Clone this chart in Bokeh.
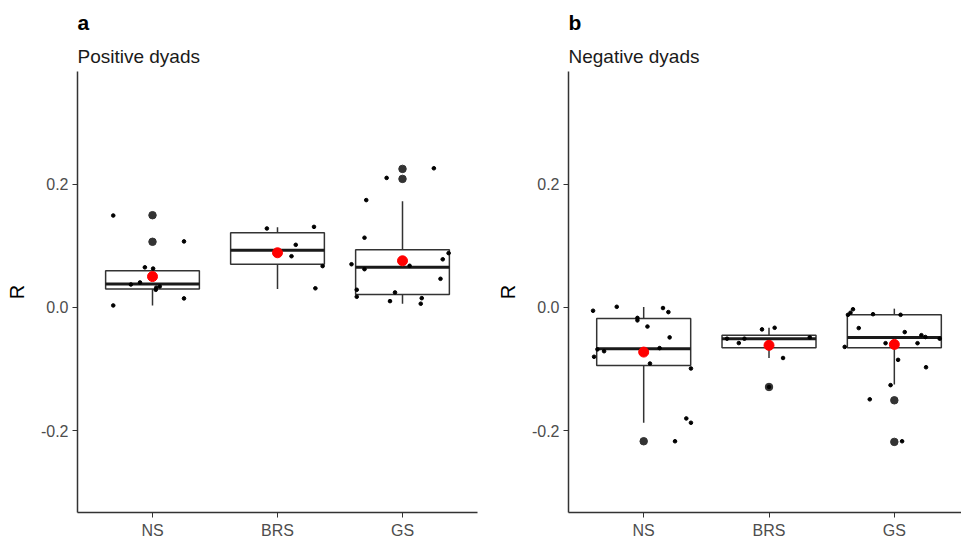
from bokeh.plotting import figure
from bokeh.layouts import row
from bokeh.models import FixedTicker, NumeralTickFormatter, Title, Range1d
from bokeh.embed import file_html
from bokeh.resources import INLINE

groups = ["NS", "BRS", "GS"]
FONT = "Liberation Sans"

# ---------------- Panel a: Positive dyads ----------------
pos_q1 = [0.0297, 0.070, 0.021]
pos_med = [0.0378, 0.0928, 0.0653]
pos_q3 = [0.0594, 0.121, 0.0934]
pos_wlo = [0.0032, 0.030, 0.006]
pos_whi = [0.064, 0.130, 0.172]
pos_mean = [0.050, 0.0886, 0.0756]
pos_out_group = ["NS", "NS", "GS", "GS"]
pos_out_val = [0.1495, 0.1064, 0.2246, 0.2084]

pos_ns_val = [0.149, 0.107, 0.065, 0.063, 0.0405, 0.0372, 0.032, 0.034, 0.0286, 0.0146, 0.0032]
pos_ns_jit = [-0.314, 0.252, -0.061, 0.005, -0.10, -0.173, 0.03, 0.058, 0.026, 0.252, -0.314]
pos_brs_val = [0.128, 0.1306, 0.1015, 0.083, 0.067, 0.031]
pos_brs_jit = [-0.085, 0.292, 0.146, 0.112, 0.361, 0.303]
pos_gs_val = [0.2256, 0.210, 0.174, 0.113, 0.088, 0.078, 0.070, 0.062, 0.0675, 0.0464,
              0.0286, 0.0173, 0.0243, 0.015, 0.0102, 0.006]
pos_gs_jit = [0.251, -0.127, -0.29, -0.304, 0.369, 0.322, -0.408, -0.304, 0.057, 0.304,
              -0.366, -0.366, -0.06, 0.154, -0.1, 0.146]

# ---------------- Panel b: Negative dyads ----------------
neg_q1 = [-0.094, -0.0653, -0.0653]
neg_med = [-0.067, -0.0507, -0.0486]
neg_q3 = [-0.0178, -0.0453, -0.0119]
neg_wlo = [-0.187, -0.082, -0.125]
neg_whi = [0.0005, -0.033, -0.002]
neg_mean = [-0.0724, -0.0615, -0.060]
neg_out_group = ["NS", "BRS", "GS", "GS"]
neg_out_val = [-0.217, -0.129, -0.1506, -0.218]

neg_ns_val = [-0.0054, 0.001, -0.001, -0.0076, -0.017, -0.021, -0.031, -0.0486, -0.068, -0.071,
              -0.066, -0.080, -0.091, -0.099, -0.180, -0.187, -0.217]
neg_ns_jit = [-0.404, -0.215, 0.154, 0.197, -0.05, -0.05, 0.03, 0.207, -0.369, -0.316,
              0.127, -0.396, 0.05, 0.377, 0.34, 0.377, 0.25]
neg_brs_val = [-0.0356, -0.033, -0.0507, -0.0507, -0.0578, -0.0486, -0.082, -0.129]
neg_brs_jit = [-0.056, 0.045, -0.335, -0.196, -0.241, 0.325, 0.112, 0.0]
neg_gs_val = [-0.003, -0.0086, -0.012, -0.011, -0.012, -0.0335, -0.040, -0.045, -0.048, -0.0507,
              -0.058, -0.058, -0.064, -0.085, -0.097, -0.126, -0.149, -0.217]
neg_gs_jit = [-0.33, -0.35, -0.37, -0.17, 0.05, -0.284, 0.083, 0.216, 0.248, 0.362,
              -0.07, 0.185, -0.396, 0.03, 0.253, -0.03, -0.196, 0.062]

y_ticks = [-0.2, 0.0, 0.2]
BOX_HALF = 0.375


def make_panel(letter, subtitle, q1, med, q3, wlo, whi, mean, out_g, out_v,
               pts, x_end, frame_w, right_border):
    p = figure(frame_width=frame_w, frame_height=441,
               x_range=Range1d(0.4, x_end), y_range=Range1d(-0.3325, 0.3825),
               output_backend="svg", toolbar_location=None,
               min_border_left=77, min_border_right=right_border,
               min_border_top=71, min_border_bottom=27,
               outline_line_color=None, title=letter)
    p.grid.visible = False
    p.title.align = "left"
    p.title.text_font = FONT
    p.title.text_font_size = "21px"
    p.title.text_font_style = "bold"
    p.title.text_color = "black"
    p.add_layout(Title(text=subtitle, align="left", text_font=FONT, text_font_size="19px",
                       text_font_style="normal", text_color="#1a1a1a"), "above")

    xs = [i + 1 for i in range(len(groups))]
    # whiskers
    p.segment(x0=xs, x1=xs, y0=q3, y1=whi, line_color="#333333", line_width=1.5)
    p.segment(x0=xs, x1=xs, y0=wlo, y1=q1, line_color="#333333", line_width=1.5)
    # boxes
    p.quad(left=[x - BOX_HALF for x in xs], right=[x + BOX_HALF for x in xs],
           bottom=q1, top=q3, fill_color="white", line_color="#333333", line_width=1.5)
    # medians
    p.segment(x0=[x - BOX_HALF for x in xs], x1=[x + BOX_HALF for x in xs],
              y0=med, y1=med, line_color="#1a1a1a", line_width=3)
    # outliers
    ox = [groups.index(g) + 1 for g in out_g]
    p.scatter(ox, out_v, size=7.5, fill_color="#333333", line_color="#333333")
    # jittered points
    jx, jy = [], []
    for gi, (vals, jit) in enumerate(pts):
        for v, j in zip(vals, jit):
            jx.append(gi + 1 + j)
            jy.append(v)
    p.scatter(jx, jy, size=3.6, fill_color="black", line_color="black")
    # means
    p.scatter(xs, mean, size=10, fill_color="red", line_color="red")

    p.xaxis.ticker = FixedTicker(ticks=xs)
    p.xaxis.major_label_overrides = {x: g for x, g in zip(xs, groups)}
    p.yaxis.ticker = FixedTicker(ticks=y_ticks)
    p.yaxis.formatter = NumeralTickFormatter(format="0.0")
    p.yaxis.axis_label = "R"
    p.yaxis.axis_label_text_font = FONT
    p.yaxis.axis_label_text_font_size = "20px"
    p.yaxis.axis_label_text_font_style = "normal"
    p.yaxis.axis_label_text_color = "black"
    p.yaxis.axis_label_standoff = 10
    for ax in (p.xaxis, p.yaxis):
        ax.axis_line_color = "#333333"
        ax.axis_line_width = 1.5
        ax.major_tick_line_color = "#333333"
        ax.major_tick_out = 5
        ax.major_tick_in = 0
        ax.minor_tick_out = 0
        ax.minor_tick_in = 0
        ax.major_label_text_font = FONT
        ax.major_label_text_font_size = "16px"
        ax.major_label_text_color = "#4d4d4d"
        ax.major_label_standoff = 4
    return p


pa = make_panel("a", "Positive dyads", pos_q1, pos_med, pos_q3, pos_wlo, pos_whi, pos_mean,
                pos_out_group, pos_out_val,
                [(pos_ns_val, pos_ns_jit), (pos_brs_val, pos_brs_jit), (pos_gs_val, pos_gs_jit)],
                3.6, 400, 14)
pb = make_panel("b", "Negative dyads", neg_q1, neg_med, neg_q3, neg_wlo, neg_whi, neg_mean,
                neg_out_group, neg_out_val,
                [(neg_ns_val, neg_ns_jit), (neg_brs_val, neg_brs_jit), (neg_gs_val, neg_gs_jit)],
                3.536, 393, 0)

layout = row(pa, pb)
open("out.html", "w").write(file_html(layout, INLINE))
